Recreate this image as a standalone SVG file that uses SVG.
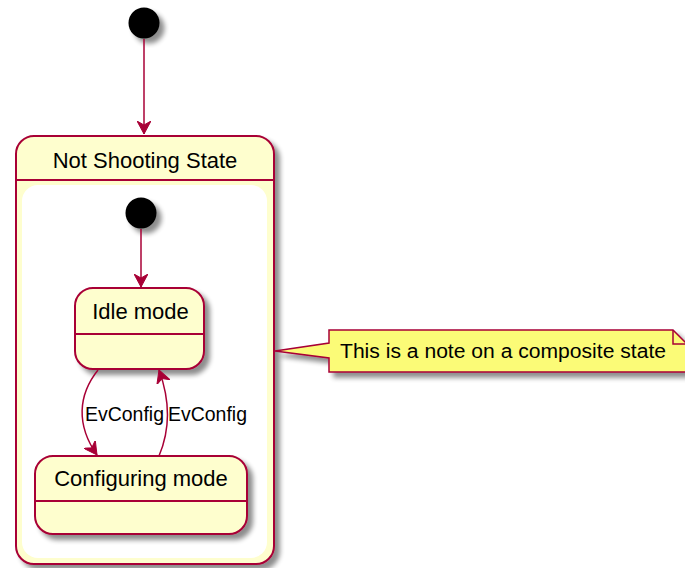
<svg xmlns="http://www.w3.org/2000/svg" width="685" height="568" viewBox="0 0 685 568">
<defs>
<filter id="sh" x="-20%" y="-20%" width="150%" height="150%">
<feGaussianBlur in="SourceAlpha" stdDeviation="2.5"/>
<feOffset dx="5" dy="5" result="b"/>
<feComponentTransfer><feFuncA type="linear" slope="0.45"/></feComponentTransfer>
<feMerge><feMergeNode/><feMergeNode in="SourceGraphic"/></feMerge>
</filter>
<marker id="ah" viewBox="0 0 14 14" refX="13" refY="7" markerWidth="14" markerHeight="14" markerUnits="userSpaceOnUse" orient="auto">
<path d="M0,0 L13,7 L0,14 L4,7 Z" fill="#A80036" stroke="#A80036" stroke-width="1"/>
</marker>
<style>
.st{fill:#FEFECE;stroke:#A80036;stroke-width:2}
.ln{fill:none;stroke:#A80036;stroke-width:2}
.e{fill:none;stroke:#A80036;stroke-width:1.5;marker-end:url(#ah)}
.t{font-family:"Liberation Sans",Arial,sans-serif;font-size:22px;fill:#000;text-anchor:middle}
.l{font-family:"Liberation Sans",Arial,sans-serif;font-size:19.5px;fill:#000}
.n{font-family:"Liberation Sans",Arial,sans-serif;font-size:20px;fill:#000}
</style>
</defs>
<g id="start">
<circle cx="144" cy="23" r="15.5" fill="#000" filter="url(#sh)"/>
</g>
<g id="not-shooting">
<rect x="16" y="136" width="258" height="428" rx="18" class="st" filter="url(#sh)"/>
<line x1="16" y1="180" x2="274" y2="180" class="ln"/>
<rect x="22" y="185" width="245" height="373" rx="16" fill="#FFFFFF"/>
<text x="145" y="168" class="t">Not Shooting State</text>
</g>
<g id="inner-start">
<circle cx="141" cy="213" r="15.5" fill="#000" filter="url(#sh)"/>
</g>
<g id="idle">
<rect x="75" y="288" width="129" height="81" rx="18" class="st" filter="url(#sh)"/>
<line x1="75" y1="334" x2="204" y2="334" class="ln"/>
<text x="140.5" y="319" class="t">Idle mode</text>
</g>
<g id="configuring">
<rect x="35" y="456" width="212" height="78" rx="18" class="st" filter="url(#sh)"/>
<line x1="35" y1="501" x2="247" y2="501" class="ln"/>
<text x="141" y="486" class="t">Configuring mode</text>
</g>
<g id="note">
<path d="M329,330 L673,330 L687,344 L687,372 L329,372 L329,358 L275,351 L329,343 Z" fill="#FBFB77" stroke="#A80036" stroke-width="1.5" filter="url(#sh)"/>
<path d="M673,330 L673,344 L687,344" fill="none" stroke="#A80036" stroke-width="1.5"/>
<text x="340" y="358" class="n" textLength="326" lengthAdjust="spacingAndGlyphs">This is a note on a composite state</text>
</g>
<g id="connectors">
<line x1="144" y1="39" x2="144" y2="134" class="e"/>
<line x1="141" y1="229" x2="141" y2="287" class="e"/>
<path d="M98,370 C78,395 76,425 97,455" class="e"/>
<path d="M159,456 C170,430 170,400 159,370" class="e"/>
<text x="85" y="421" class="l" textLength="79" lengthAdjust="spacingAndGlyphs">EvConfig</text>
<text x="168" y="421" class="l" textLength="79" lengthAdjust="spacingAndGlyphs">EvConfig</text>
</g>
</svg>
